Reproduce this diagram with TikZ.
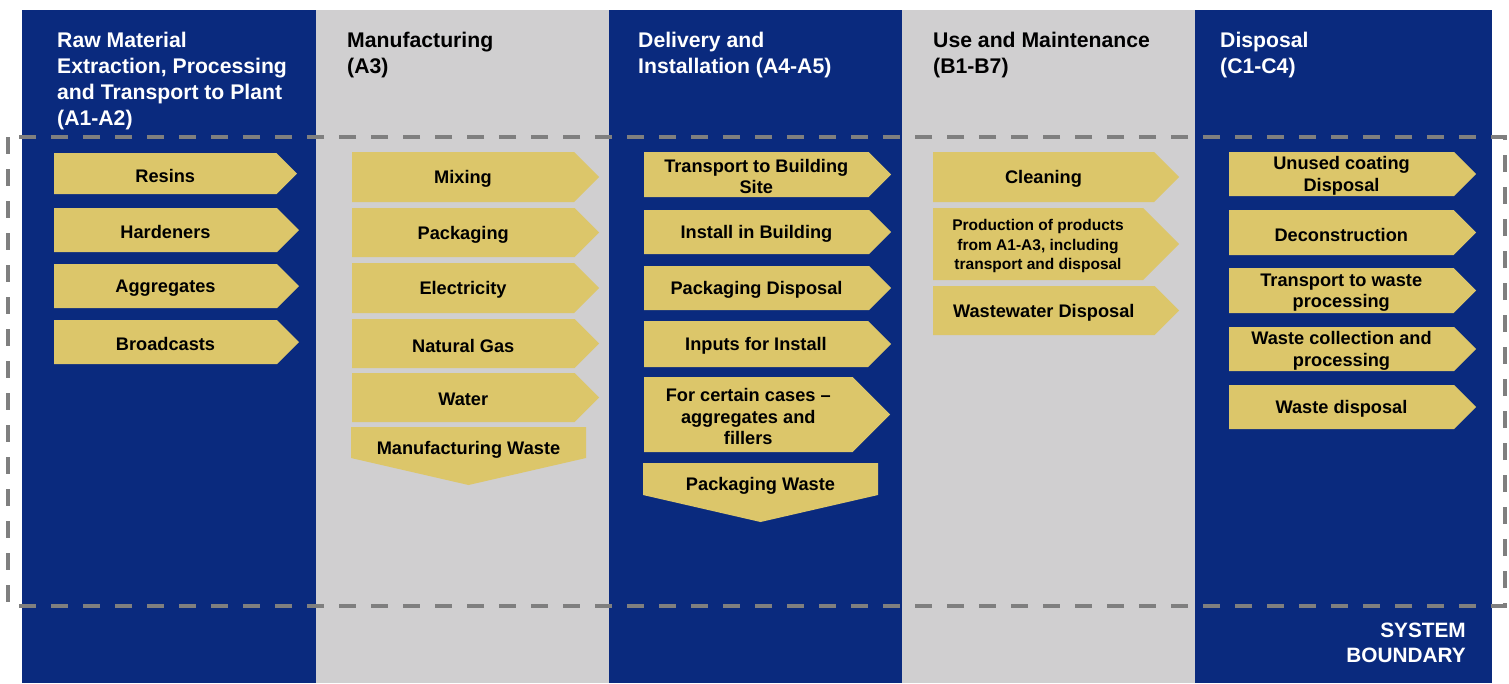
\documentclass[tikz,border=0pt]{standalone}
\usepackage{fontspec}
\setmainfont{Liberation Sans}
\definecolor{stageblue}{RGB}{10,42,126}
\definecolor{stagegray}{RGB}{208,207,208}
\definecolor{boxyellow}{RGB}{220,198,106}
\definecolor{limitgray}{RGB}{127,127,127}
\tikzset{
  boxfill/.style={fill=boxyellow},
  boxtext/.style={font=\bfseries\fontsize{18.2}{21.6}\selectfont, align=center, inner sep=0pt, text=black},
  smalltext/.style={font=\bfseries\fontsize{15.5}{19.5}\selectfont, align=center, inner sep=0pt, text=black},
  headtext/.style={font=\bfseries\fontsize{21.2}{26}\selectfont, align=left, anchor=north west, inner sep=0pt},
  limitline/.style={draw=limitgray, line width=3.5pt, dash pattern=on 17pt off 15pt}
}
% right-pointing step: name, left x, top y, tip x, bottom y, label, text style
\newcommand\lcachev[7]{%
  \pgfmathsetmacro\hh{(#5-#3)/2}
  \fill[boxfill] (#2,#3) -- ({#4-\hh},#3) -- (#4,{(#3+#5)/2}) -- ({#4-\hh},#5) -- (#2,#5) -- cycle;
  \node[#7] (#1) at ({(#2+#4)/2-\hh/2},{(#3+#5)/2+2}) {#6};
}
% downward output: name, left x, top y, right x, side bottom y, tip y, label
\newcommand\lcadown[7]{%
  \fill[boxfill] (#2,#3) -- (#4,#3) -- (#4,#5) -- ({(#2+#4)/2},#6) -- (#2,#5) -- cycle;
  \node[boxtext] (#1) at ({(#2+#4)/2},{(#3+#5)/2+7}) {#7};
}
\begin{document}
\begin{tikzpicture}[x=1pt,y=-1pt]
\useasboundingbox (0,0) rectangle (1509,683);

% stage columns
\fill[stageblue] (22,10) rectangle (316,683);
\fill[stagegray] (316,10) rectangle (609,683);
\fill[stageblue] (609,10) rectangle (902,683);
\fill[stagegray] (902,10) rectangle (1195,683);
\fill[stageblue] (1195,10) rectangle (1492,683);

% stage headings
\node[headtext, text=white] (head1) at (57,32) {Raw Material\\Extraction, Processing\\and Transport to Plant\\(A1-A2)};
\node[headtext, text=black] (head2) at (347,32) {Manufacturing\\(A3)};
\node[headtext, text=white] (head3) at (638,32) {Delivery and\\Installation (A4-A5)};
\node[headtext, text=black] (head4) at (933,32) {Use and Maintenance\\(B1-B7)};
\node[headtext, text=white] (head5) at (1220,32) {Disposal\\(C1-C4)};

% A1-A2
\lcachev{resins}{54}{153}{297}{194}{Resins}{boxtext}
\lcachev{hardeners}{54}{208}{299}{252}{Hardeners}{boxtext}
\lcachev{aggregates}{54}{264}{299}{308}{Aggregates}{boxtext}
\lcachev{broadcasts}{54}{320}{299}{364}{Broadcasts}{boxtext}

% A3
\lcachev{mixing}{352}{152}{599}{202}{Mixing}{boxtext}
\lcachev{packaging}{352}{208}{599}{257}{Packaging}{boxtext}
\lcachev{electricity}{352}{263}{599}{313}{Electricity}{boxtext}
\lcachev{gas}{352}{319}{599}{368}{Natural Gas}{boxtext}
\lcachev{water}{352}{373}{599}{422}{Water}{boxtext}
\lcadown{mfgwaste}{351}{427}{586}{458}{485}{Manufacturing Waste}

% A4-A5
\lcachev{transport}{644}{152}{891}{197}{Transport to Building\\Site}{boxtext}
\lcachev{install}{644}{210}{891}{254}{Install in Building}{boxtext}
\lcachev{packdisp}{644}{266}{891}{310}{Packaging Disposal}{boxtext}
\lcachev{inputs}{644}{321}{891}{367}{Inputs for Install}{boxtext}
\lcachev{certain}{644}{377}{890}{452}{For certain cases –\\aggregates and\\fillers}{boxtext}
\lcadown{packwaste}{643}{463}{878}{495}{522}{Packaging Waste}

% B1-B7
\lcachev{cleaning}{933}{152}{1179}{202}{Cleaning}{boxtext}
\lcachev{production}{933}{208}{1179}{280}{Production of products\\from A1-A3, including\\transport and disposal}{smalltext}
\lcachev{wastewater}{933}{286}{1179}{335}{Wastewater Disposal}{boxtext}

% C1-C4
\lcachev{unused}{1229}{152}{1476}{196}{Unused coating\\Disposal}{boxtext}
\lcachev{decon}{1229}{210}{1476}{255}{Deconstruction}{boxtext}
\lcachev{wastetransport}{1229}{268}{1476}{313}{Transport to waste\\processing}{boxtext}
\lcachev{collection}{1229}{327}{1476}{371}{Waste collection and\\processing}{boxtext}
\lcachev{wastedisp}{1229}{385}{1476}{429}{Waste disposal}{boxtext}

% system boundary
\draw[limitline] (8,137) rectangle (1505,606);
\node[font=\bfseries\fontsize{20.8}{25}\selectfont, text=white, align=right, anchor=north east, inner sep=0pt] (boundary) at (1466,623) {SYSTEM\\BOUNDARY};
\end{tikzpicture}
\end{document}
